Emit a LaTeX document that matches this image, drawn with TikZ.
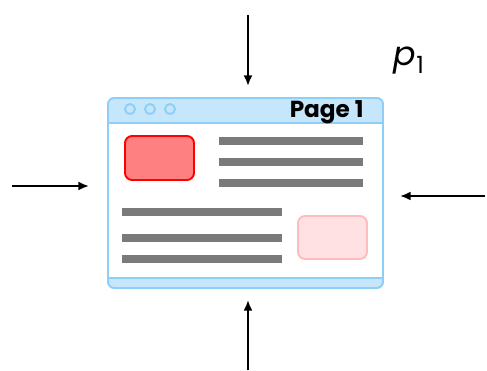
\documentclass[tikz,border=0pt]{standalone}
\usepackage{fontspec}
\newfontfamily\pagefont{Poppins}
\usetikzlibrary{arrows.meta}
\definecolor{barblue}{HTML}{C6E6FC}
\definecolor{lineblue}{HTML}{8DCFF7}
\definecolor{boxred}{HTML}{FF8080}
\definecolor{boxpink}{HTML}{FFE0E3}
\definecolor{pinkline}{HTML}{FFBBBE}
\definecolor{textgray}{HTML}{7A7A7A}
\begin{document}
\begin{tikzpicture}[x=0.02cm, y=-0.02cm,
    push/.style={-{Latex[length=6pt,width=5pt]}, line width=1.1pt}]
  \useasboundingbox (0,0) rectangle (487,371);
  % browser window
  \draw[lineblue, fill=barblue, line width=1.1pt, rounded corners=3.5pt] (108,98) rectangle (383,288);
  \draw[lineblue, fill=white, line width=1.1pt] (108,123) rectangle (383,278);
  \foreach \x in {130,150,170}
    \draw[lineblue, line width=1.1pt] (\x,109) circle [radius=5];
  \node[anchor=base east, inner sep=0pt, font=\pagefont\bfseries\fontsize{13.2}{15}\selectfont] (title) at (364,118) {Page 1};
  % content
  \draw[red, fill=boxred, line width=1.1pt, rounded corners=4pt] (125,136) rectangle (194,180);
  \draw[pinkline, fill=boxpink, line width=1.1pt, rounded corners=4pt] (298,216) rectangle (367,259);
  \foreach \y in {141,162,183}
    \fill[textgray] (219,\y-4) rectangle (363,\y+4);
  \foreach \y in {212,238,259}
    \fill[textgray] (122,\y-4) rectangle (282,\y+4);
  % forces
  \coordinate (top from) at (248,15);
  \coordinate (top to) at (248,86);
  \coordinate (bottom from) at (248,370);
  \coordinate (bottom to) at (248,300);
  \coordinate (left from) at (12,186);
  \coordinate (left to) at (89,186);
  \coordinate (right from) at (485,196);
  \coordinate (right to) at (400,196);
  \draw[push] (top from) -- (top to);
  \draw[push] (bottom from) -- (bottom to);
  \draw[push] (left from) -- (left to);
  \draw[push] (right from) -- (right to);
  \node[font=\pagefont\fontsize{19}{22}\selectfont] (label) at (409,61)
    {\itshape p\raisebox{-0.4ex}{\upshape\fontsize{13.5}{15}\selectfont 1}};
\end{tikzpicture}
\end{document}
